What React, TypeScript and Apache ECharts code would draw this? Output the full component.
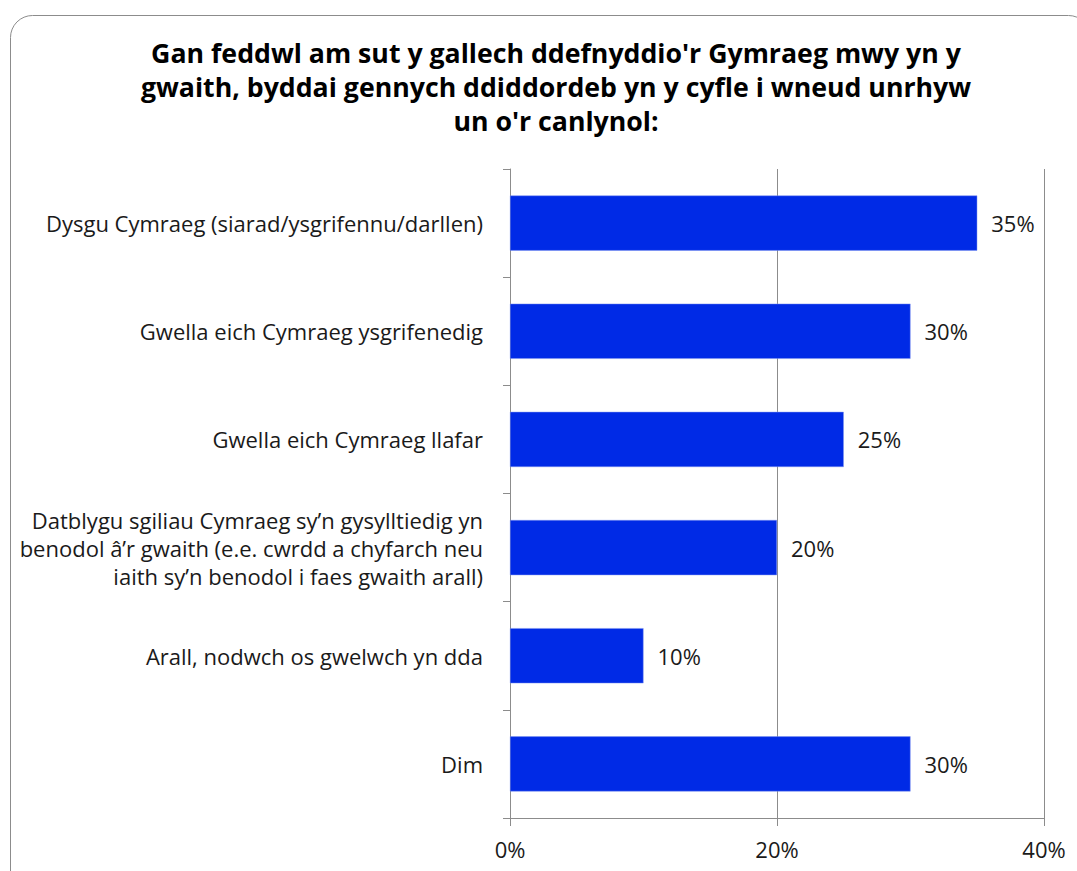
import React, { useEffect, useRef } from "react";
import * as echarts from "echarts";

const titleText =
  "Gan feddwl am sut y gallech ddefnyddio'r Gymraeg mwy yn y\ngwaith, byddai gennych ddiddordeb yn y cyfle i wneud unrhyw\nun o'r canlynol:";

const categories = [
  "Dysgu Cymraeg (siarad/ysgrifennu/darllen)",
  "Gwella eich Cymraeg ysgrifenedig",
  "Gwella eich Cymraeg llafar",
  "Datblygu sgiliau Cymraeg sy’n gysylltiedig yn\nbenodol â’r gwaith (e.e. cwrdd a chyfarch neu\niaith sy’n benodol i faes gwaith arall)",
  "Arall, nodwch os gwelwch yn dda",
  "Dim",
];

const values = [35, 30, 25, 20, 10, 30];

const xTicks = [0, 20, 40];

export default function App() {
  const ref = useRef<HTMLDivElement>(null);
  useEffect(() => {
    if (!ref.current) return;
    const chart = echarts.init(ref.current, undefined, { renderer: "svg" });
    const font = "'Open Sans', 'Noto Sans', sans-serif";
    chart.setOption({
      animation: false,
      backgroundColor: "#ffffff",
      textStyle: { fontFamily: font },
      graphic: [
        {
          type: "rect",
          shape: { x: 10.5, y: 15.5, width: 1080, height: 900, r: 22 },
          style: { fill: "none", stroke: "#8c8c8c", lineWidth: 1 },
          silent: true,
        },
      ],
      title: {
        text: titleText,
        left: 551,
        textAlign: "center",
        top: 30,
        padding: 5,
        textStyle: {
          fontFamily: font,
          fontSize: 26.7,
          fontWeight: "bold",
          color: "#000000",
          lineHeight: 34,
        },
      },
      grid: { left: 510, right: 33, top: 169, bottom: 53, containLabel: false },
      xAxis: {
        type: "value",
        min: xTicks[0],
        max: xTicks[xTicks.length - 1],
        interval: 20,
        axisLine: { show: true, lineStyle: { color: "#8c8c8c", width: 1 } },
        axisTick: { show: true, length: 8, lineStyle: { color: "#8c8c8c" } },
        splitLine: { show: true, lineStyle: { color: "#8c8c8c", width: 1 } },
        axisLabel: {
          formatter: "{value}%",
          fontFamily: font,
          fontSize: 22,
          color: "#1a1a1a",
          margin: 20,
        },
      },
      yAxis: {
        type: "category",
        data: categories,
        inverse: true,
        axisLine: { show: true, lineStyle: { color: "#8c8c8c", width: 1 } },
        axisTick: { show: true, length: 7, lineStyle: { color: "#8c8c8c" } },
        axisLabel: {
          fontFamily: font,
          fontSize: 22,
          color: "#1a1a1a",
          margin: 27,
          lineHeight: 28,
          align: "right",
        },
      },
      series: [
        {
          type: "bar",
          data: values,
          barCategoryGap: "49%",
          itemStyle: { color: "#002ae6", borderColor: "#7f95f0", borderWidth: 0.5 },
          label: {
            show: true,
            position: "right",
            distance: 14,
            formatter: "{c}%",
            fontFamily: font,
            fontSize: 22,
            color: "#1a1a1a",
          },
        },
      ],
    });
    return () => chart.dispose();
  }, []);
  return (
    <div
      ref={ref}
      style={{ position: "fixed", left: 0, top: 0, width: 1077, height: 871 }}
    />
  );
}
